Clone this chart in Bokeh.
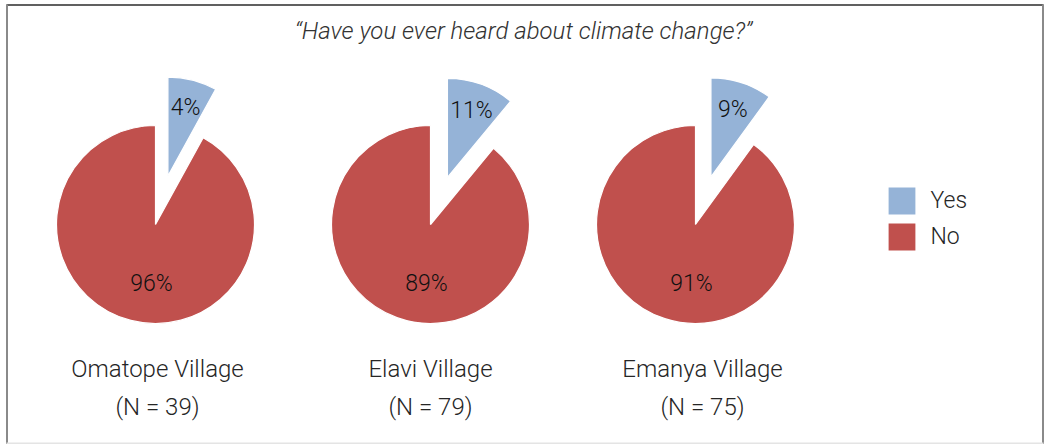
import math
from bokeh.plotting import figure
from bokeh.models import Range1d, Legend, LegendItem, ColumnDataSource
from bokeh.core.properties import value
from bokeh.embed import file_html
from bokeh.resources import INLINE

# ---------------- data ----------------
villages = ["Omatope Village", "Elavi Village", "Emanya Village"]
sample_sizes = [39, 79, 75]
yes_labels = ["4%", "11%", "9%"]
no_labels = ["96%", "89%", "91%"]
# share of each pie taken by the exploded "Yes" wedge, as drawn in the picture (%)
yes_drawn = [8, 11, 10]
series = ["Yes", "No"]
title_text = "\u201cHave you ever heard about climate change?\u201d"

# ---------------- layout / style ----------------
W, H = 1045, 444
pie_cx = [155, 430, 695]
label_cx = [157, 430, 702]
pie_cy = H - 224
R = 99
EXPLODE = 50
colors = {"Yes": "#95B3D7", "No": "#C0504D"}
FONT = "Roboto Light"

p = figure(width=W, height=H, x_range=Range1d(0, W), y_range=Range1d(0, H),
           output_backend="svg", toolbar_location=None, min_border=0,
           background_fill_color="white", border_fill_color="white")
p.axis.visible = False
p.grid.visible = False
p.outline_line_color = None

# frame of the picture
p.segment(x0=[6, 6.5, 1042.5, 6], y0=[H - 4.5, H - 4, H - 4, 1],
          x1=[1043, 6.5, 1042.5, 1043], y1=[H - 4.5, 0, 0, 1],
          line_color=["#2b2b2b", "#8a8a8a", "#8a8a8a", "#e4e4e4"],
          line_width=[1.5, 2, 2, 2])

# wedges
yes_x, yes_y, yes_s, yes_e = [], [], [], []
no_s, no_e = [], []
ylab_x, ylab_y, nlab_x, nlab_y = [], [], [], []
for cx, share in zip(pie_cx, yes_drawn):
    theta = share / 100.0 * 2 * math.pi
    bis = math.pi / 2 - theta / 2
    ex = cx + EXPLODE * math.cos(bis)
    ey = pie_cy + EXPLODE * math.sin(bis)
    yes_x.append(ex); yes_y.append(ey)
    yes_s.append(math.pi / 2 - theta); yes_e.append(math.pi / 2)
    no_s.append(math.pi / 2); no_e.append(math.pi / 2 - theta)
    ylab_x.append(ex + 0.72 * R * math.cos(bis))
    ylab_y.append(ey + 0.72 * R * math.sin(bis))
    nlab_x.append(cx - 4)
    nlab_y.append(pie_cy - 59)

src_yes = ColumnDataSource(dict(x=yes_x, y=yes_y, s=yes_s, e=yes_e))
src_no = ColumnDataSource(dict(x=pie_cx, y=[pie_cy] * 3, s=no_s, e=no_e))

r_no = p.wedge(x="x", y="y", radius=R, start_angle="s", end_angle="e", source=src_no,
               fill_color=colors["No"], line_color="white", line_width=1.2)
r_yes = p.wedge(x="x", y="y", radius=R, start_angle="s", end_angle="e", source=src_yes,
                fill_color=colors["Yes"], line_color="white", line_width=1.2)

# value labels
p.text(x=ylab_x, y=ylab_y, text=yes_labels, text_font=value(FONT), text_font_size="23px",
       text_color="#111111", text_align="center", text_baseline="middle")
p.text(x=nlab_x, y=nlab_y, text=no_labels, text_font=value(FONT), text_font_size="23px",
       text_color="#111111", text_align="center", text_baseline="middle")

# village names and sample sizes
p.text(x=label_cx, y=[H - 368] * 3, text=villages, text_font=value(FONT),
       text_font_size="24px", text_color="#262626", text_align="center",
       text_baseline="alphabetic")
p.text(x=label_cx, y=[H - 406] * 3, text=[f"(N = {n})" for n in sample_sizes],
       text_font=value(FONT), text_font_size="24px", text_color="#262626",
       text_align="center", text_baseline="alphabetic")

# title
p.text(x=[523], y=[H - 30], text=[title_text], text_font=value(FONT),
       text_font_style="italic", text_font_size="24px", text_color="#333333",
       text_align="center", text_baseline="alphabetic")

legend = Legend(items=[LegendItem(label=series[0], renderers=[r_yes]),
                       LegendItem(label=series[1], renderers=[r_no])],
                location=(883.5, 190.5), orientation="vertical",
                glyph_width=35, glyph_height=35, spacing=1, padding=0, margin=0,
                label_standoff=12, label_text_font=FONT, label_text_font_size="23px",
                label_text_color="#262626", border_line_color=None,
                background_fill_alpha=0)
p.add_layout(legend)

open("out.html", "w").write(file_html(p, INLINE))
